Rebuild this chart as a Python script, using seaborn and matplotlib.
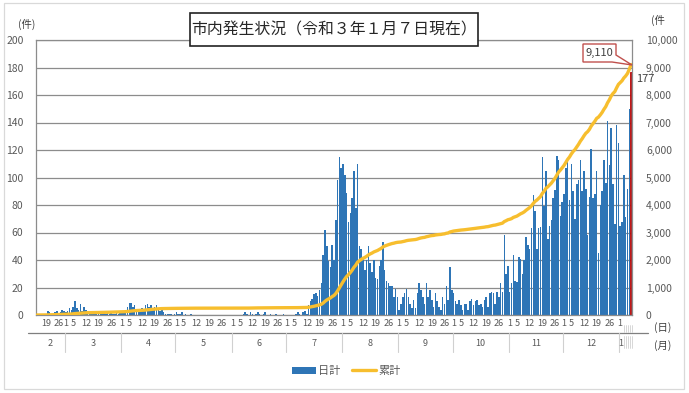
import numpy as np
import pandas as pd
import matplotlib
matplotlib.use("Agg")
import matplotlib.pyplot as plt
import matplotlib.transforms as mtransforms
from matplotlib.patches import Rectangle, Polygon, Patch
from matplotlib.lines import Line2D
import seaborn as sns

# ---------------- data (daily new cases, 2020-02-14 .. 2021-01-07) ----------------
feb = [0, 0, 0, 0, 0, 1, 3, 2, 1, 0, 2, 3, 1, 2, 4, 3]
mar = [2, 3, 5, 4, 6, 10, 5, 4, 8, 3, 6, 4, 2, 2, 1, 1, 2, 1, 1, 1, 2, 2, 1, 3, 1, 2, 1, 1, 2, 1, 3]
apr = [2, 3, 4, 6, 9, 9, 6, 7, 4, 3, 2, 5, 3, 7, 8, 6, 7, 5, 6, 7, 5, 3, 4, 2, 1, 1, 1, 1, 0, 1]
may = [2, 1, 1, 2, 0, 1, 0, 0, 1, 0, 0, 0, 0, 0, 0, 0, 0, 0, 0, 0, 0, 0, 0, 0, 0, 0, 0, 0, 0, 0, 0]
jun = [0, 0, 0, 0, 0, 0, 1, 2, 1, 0, 2, 1, 0, 1, 2, 1, 0, 1, 2, 0, 0, 1, 0, 0, 1, 0, 0, 0, 1, 0]
jul = [0, 0, 0, 0, 0, 1, 2, 1, 0, 2, 3, 1, 7, 10, 12, 15, 16, 14, 18,
       23, 44, 62, 50, 39, 35, 51, 40, 69, 98, 115, 107]
aug = [110, 102, 89, 68, 74, 85, 105, 78, 110, 50, 48, 42, 33, 40, 50, 38, 31, 40, 27, 26,
       36, 40, 53, 33, 25, 23, 21, 21, 13, 19, 13]
sep = [4, 8, 13, 16, 19, 13, 8, 5, 11, 5, 16, 23, 18, 13, 8, 23, 13, 18, 11, 6,
       16, 10, 6, 4, 13, 8, 21, 11, 35, 18]
octo = [16, 10, 8, 11, 7, 4, 8, 8, 4, 10, 12, 7, 10, 11, 7, 8, 6, 11, 13, 6,
        16, 17, 16, 8, 17, 13, 23, 17, 58, 30, 36]
nov = [17, 23, 44, 25, 24, 42, 41, 30, 40, 57, 51, 48, 63, 87, 76, 48, 63, 64, 115, 79,
       105, 55, 65, 69, 85, 91, 116, 113, 72, 82]
dec = [88, 107, 112, 84, 110, 90, 70, 95, 98, 113, 90, 105, 92, 58, 86, 121, 85, 88, 105, 45,
       80, 90, 113, 96, 141, 109, 136, 95, 66, 138, 125]
jan = [65, 68, 102, 71, 92, 150, 177]

start_date = "2020-02-14"
end_date = "2021-01-07"
day_label_days = [1, 5, 12, 19, 26]
month_names = ["2", "3", "4", "5", "6", "7", "8", "9", "10", "11", "12", "1"]
title = "市内発生状況（令和３年１月７日現在）"
series_names = ["日計", "累計"]

daily = feb + mar + apr + may + jun + jul + aug + sep + octo + nov + dec + jan
dates = pd.date_range(start_date, end_date)
cum = np.cumsum(daily)
df = pd.DataFrame({"day": np.arange(len(daily)), "daily": daily, "cum": cum})
N = len(df)

# ---------------- style ----------------
sns.set_theme(style="white")
plt.rcParams["font.family"] = ["Noto Sans CJK JP", "DejaVu Sans"]
W, H = 689, 393
TXT = "#595959"
BLUE = "#2E75B6"
GOLD = "#F7BE2E"
GRID = "#8C8C8C"

fig = plt.figure(figsize=(W / 100, H / 100), dpi=100)


def fy(py):
    return 1 - py / H


ax = fig.add_axes([36 / W, 1 - 315 / H, 596 / W, 275 / H])

sns.barplot(data=df, x="day", y="daily", color=BLUE, saturation=1, width=0.85,
            errorbar=None, linewidth=0, ax=ax)
last = ax.patches[-1]
last.set_facecolor("#A8282A")
last.set_edgecolor("#C00000")
last.set_linewidth(0.6)

ax.set_ylim(0, 200)
ax.set_yticks(np.arange(0, 201, 20))
ax.yaxis.grid(True, color=GRID, lw=0.9)
ax.set_axisbelow(True)
ax.tick_params(axis="y", length=0, pad=9, labelsize=7.5, labelcolor=TXT)
for s in ax.spines.values():
    s.set_color(GRID)
    s.set_linewidth(0.9)
ax.set_xlabel("")
ax.set_ylabel("")

# day tick labels (the squeezed January part shows only the 1st)
tick_pos = [i for i, d in enumerate(dates)
            if d.day in day_label_days and not (d.month == 1 and d.day != 1)]
tick_lab = [str(dates[i].day) for i in tick_pos]

ax2 = ax.twinx()
sns.lineplot(data=df, x="day", y="cum", color=GOLD, lw=2.4, ax=ax2)
ax2.set_ylim(0, 10000)
ax2.set_yticks(np.arange(0, 10001, 1000))
ax2.set_yticklabels([f"{v:,}" for v in range(0, 10001, 1000)])
ax2.tick_params(axis="y", length=0, pad=10, labelsize=7.5, labelcolor=TXT)
ax2.grid(False)
for s in ax2.spines.values():
    s.set_visible(False)
ax2.set_ylabel("")
ax2.set_xlabel("")

ax.set_xticks(tick_pos)
ax.set_xticklabels(tick_lab)
ax.tick_params(axis="x", length=0, pad=3, labelsize=6.5, labelcolor=TXT)
ax.set_xlim(-0.5, N - 0.5)
ax2.set_xlim(-0.5, N - 0.5)

# ---------------- category axis decorations ----------------
bt = mtransforms.blended_transform_factory(ax.transData, fig.transFigure)
fig.add_artist(Line2D([28 / W, 648 / W], [fy(333), fy(333)], color="#7F7F7F", lw=0.9))
month_starts = [0] + [i for i, d in enumerate(dates) if d.day == 1] + [N]
for b in month_starts[1:-1]:
    fig.add_artist(Line2D([b - 0.5, b - 0.5], [fy(333), fy(352)], color="#D0D0D0",
                          lw=0.8, transform=bt))
for k in range(len(month_starts) - 1):
    a, b = month_starts[k], month_starts[k + 1]
    xc = (a + b - 1) / 2 if k < len(month_starts) - 2 else a + 0.5
    fig.text(xc, fy(343), month_names[k], transform=bt, ha="center",
             va="center", fontsize=6.5, color=TXT)
# squeezed January category ticks
for i in range(N - 5, N):
    fig.add_artist(Line2D([i + 0.3, i + 0.3], [fy(325), fy(332)], color="#C8C8C8", lw=0.5,
                          transform=bt))
    fig.add_artist(Line2D([i + 0.3, i + 0.3], [fy(336), fy(348)], color="#C8C8C8", lw=0.5,
                          transform=bt))

fig.text(663 / W, fy(328), "(日)", ha="center", va="center", fontsize=7.5, color="#404040")
fig.text(663 / W, fy(346), "(月)", ha="center", va="center", fontsize=7.5, color="#404040")
fig.text(27 / W, fy(24), "(件)", ha="center", va="center", fontsize=7.5, color="#404040")
fig.text(651 / W, fy(20), "(件", ha="left", va="center", fontsize=7.5, color="#404040")

# ---------------- title box ----------------
fig.add_artist(Rectangle((190 / W, fy(46)), 288 / W, 33 / H, transform=fig.transFigure,
                         facecolor="white", edgecolor="#222222", lw=1.2, zorder=5))
fig.text(334 / W, fy(29.5), title, ha="center", va="center", fontsize=11.4,
         color="#262626", zorder=6)

# ---------------- callout for the latest total ----------------
tot = int(cum[-1])
callout = [(583, 44), (616, 44), (616, 55), (632, 65), (612, 62), (583, 62)]
fig.add_artist(Polygon([(x / W, fy(y)) for x, y in callout], closed=True,
                       transform=fig.transFigure, facecolor="white",
                       edgecolor="#C0504D", lw=1.0, zorder=5))
fig.text(599.5 / W, fy(53), f"{tot:,}", ha="center", va="center", fontsize=8,
         color="#404040", zorder=6)
fig.text(645 / W, fy(79), f"{daily[-1]}", ha="center", va="center", fontsize=8,
         color="#404040", zorder=6)

# ---------------- legend ----------------
handles = [Patch(facecolor=BLUE, edgecolor="none"), Line2D([], [], color=GOLD, lw=2.4)]
fig.legend(handles, series_names, loc="center", bbox_to_anchor=(346 / W, fy(371)),
           ncol=2, frameon=False, fontsize=8, handlelength=2.2, handleheight=0.6,
           columnspacing=1.0, handletextpad=0.2, labelcolor=TXT)

# outer frame
fig.add_artist(Rectangle((4 / W, fy(389)), 680 / W, 386 / H, transform=fig.transFigure,
                         facecolor="none", edgecolor="#D9D9D9", lw=0.9, zorder=0))

fig.savefig("out.png", dpi=100)
